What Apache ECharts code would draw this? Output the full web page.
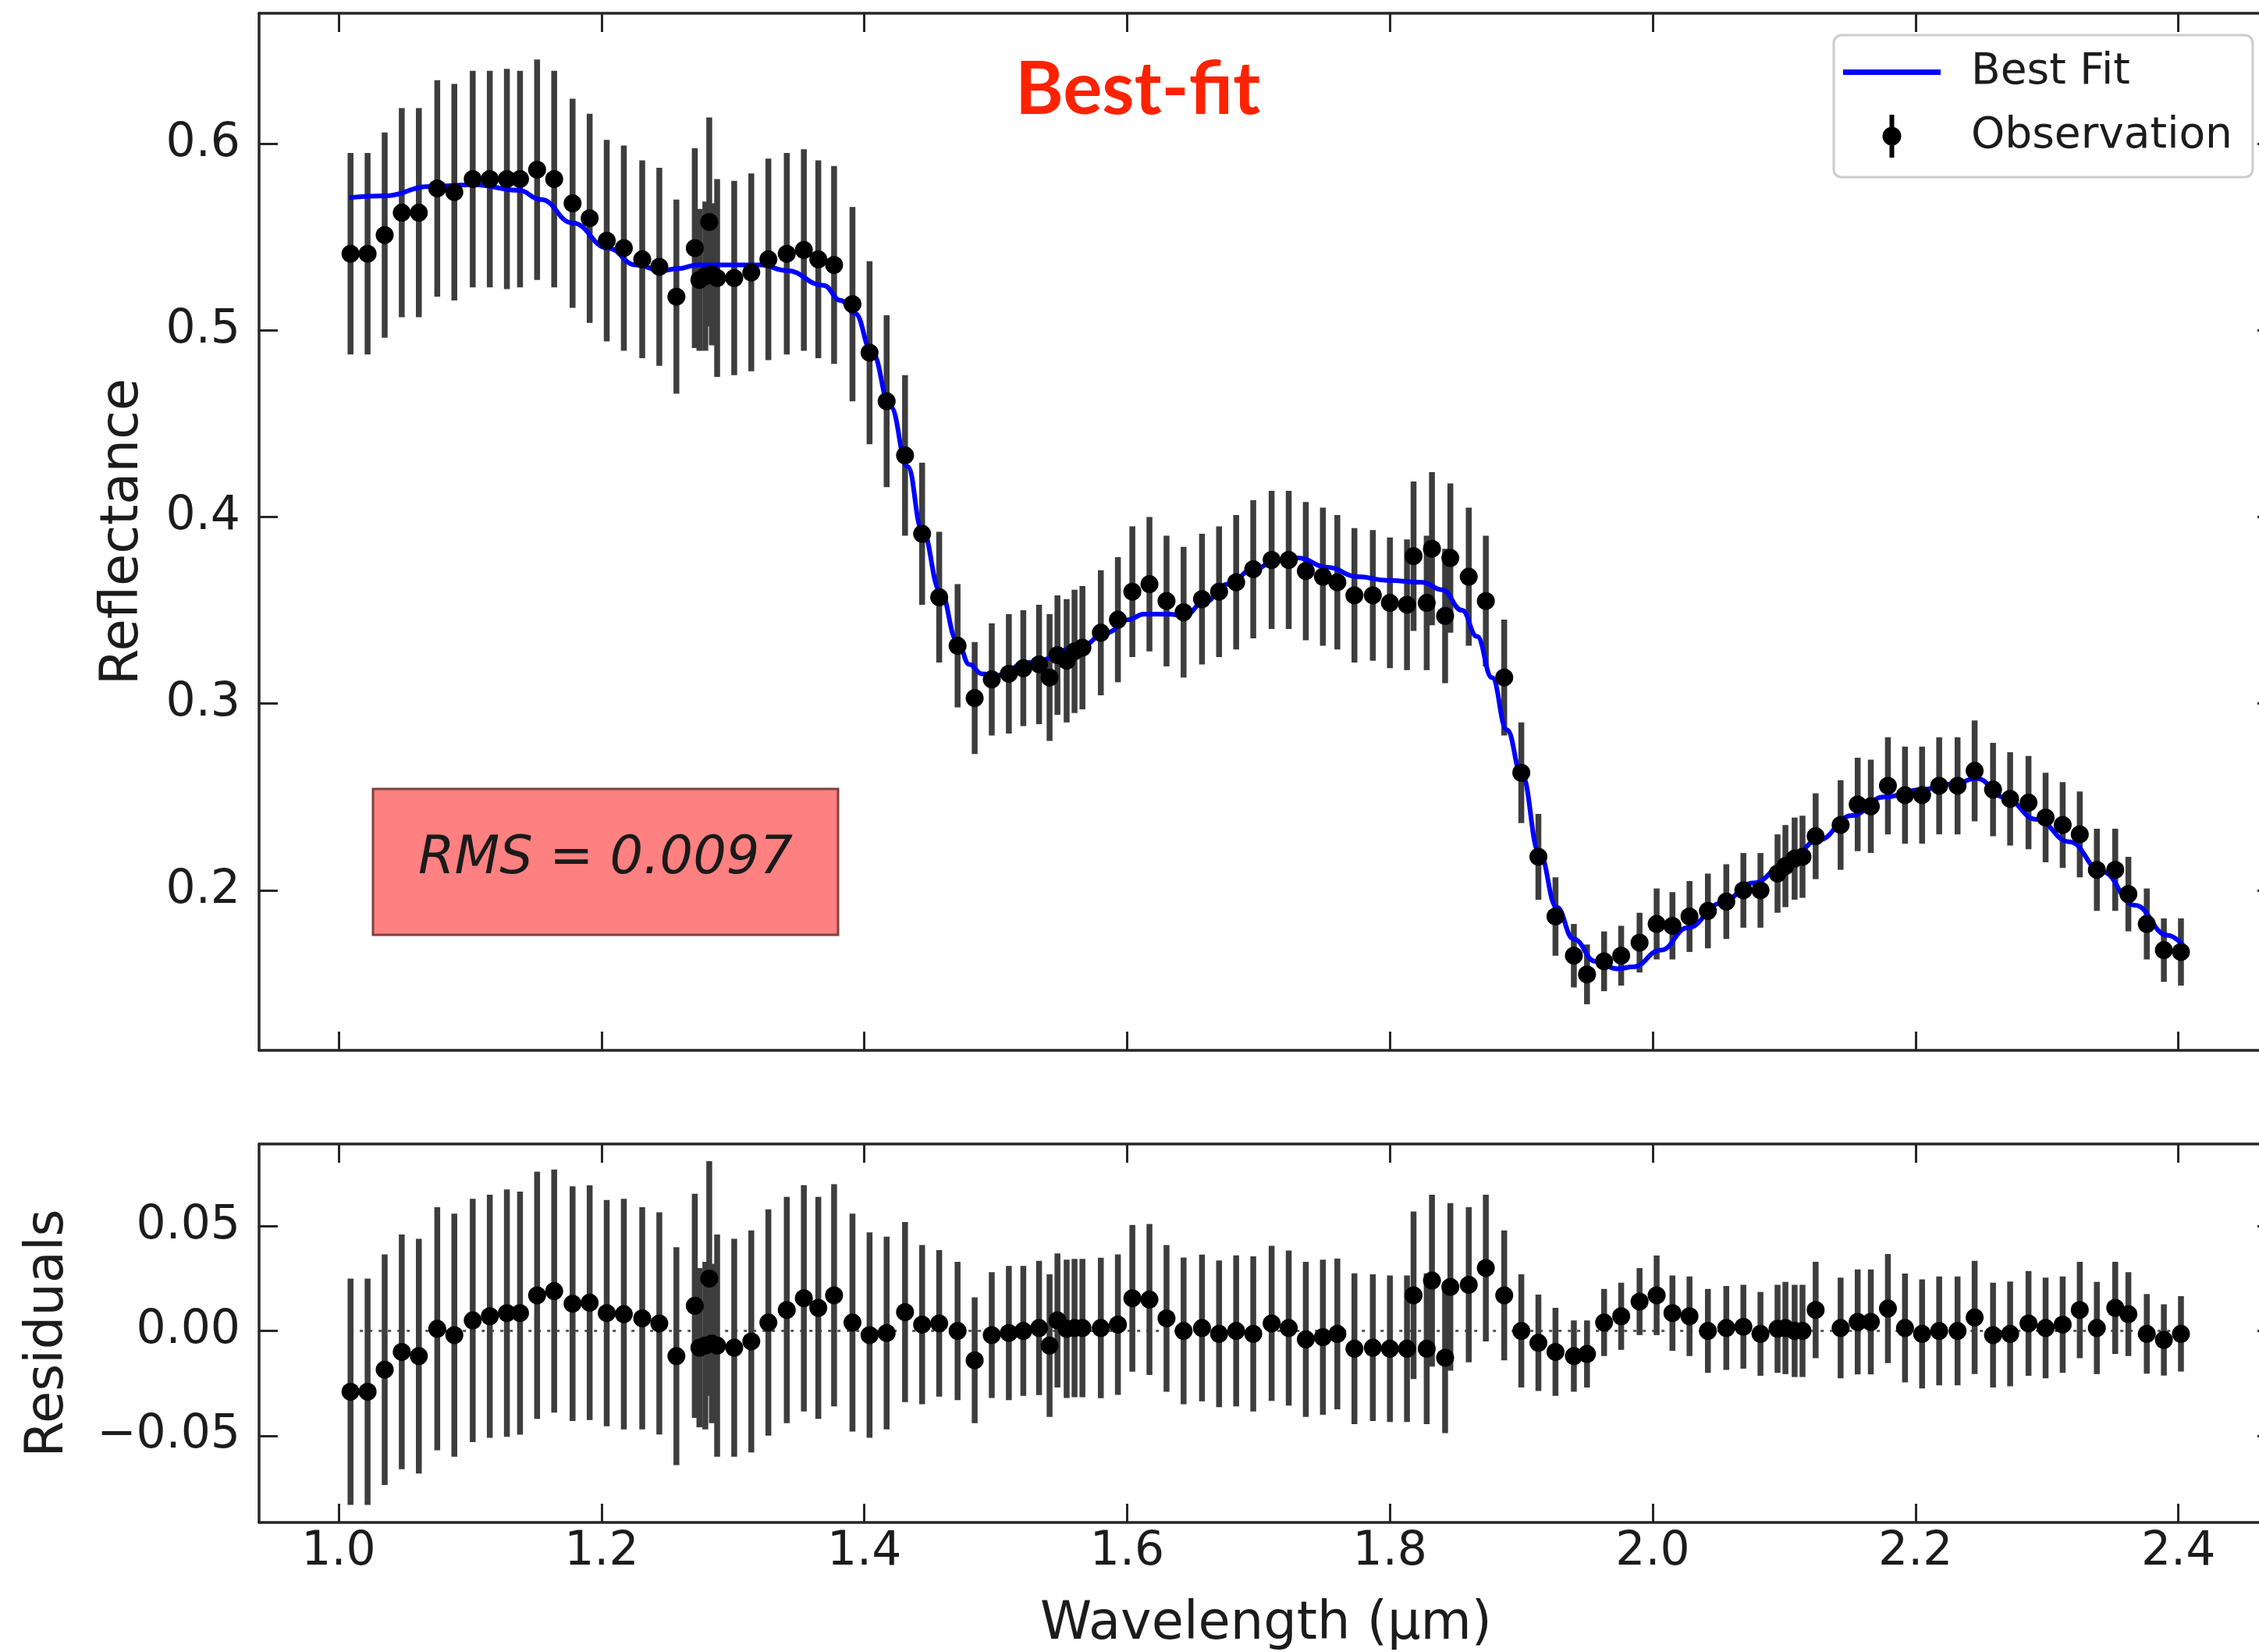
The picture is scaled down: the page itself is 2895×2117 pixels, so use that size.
<!DOCTYPE html>
<html>
<head>
<meta charset="utf-8">
<title>Best-fit spectrum</title>
<script src="https://cdn.jsdelivr.net/npm/echarts@6/dist/echarts.min.js"></script>
<style>
  html, body { margin: 0; padding: 0; background: #ffffff; overflow: hidden; }
  #chart { width: 2895px; height: 2117px; }
</style>
</head>
<body>
<div id="chart"></div>
<script>
// Observed spectrum (µm, reflectance, 1-sigma error) and residuals (obs - model)
const wavelength = [
  1.009, 1.022, 1.035, 1.048, 1.061, 1.075, 1.088, 1.102, 1.115, 1.128,
  1.138, 1.151, 1.164, 1.178, 1.191, 1.204, 1.217, 1.231, 1.244, 1.257,
  1.271, 1.2745, 1.279, 1.282, 1.284, 1.288, 1.301, 1.314, 1.327, 1.341,
  1.354, 1.365, 1.377, 1.391, 1.404, 1.417, 1.431, 1.444, 1.457, 1.471,
  1.484, 1.497, 1.510, 1.521, 1.533, 1.541, 1.547, 1.554, 1.560, 1.566,
  1.580, 1.593, 1.604, 1.617, 1.630, 1.643, 1.657, 1.670, 1.683, 1.696,
  1.710, 1.723, 1.736, 1.749, 1.760, 1.773, 1.787, 1.800, 1.813, 1.818,
  1.828, 1.832, 1.842, 1.846, 1.860, 1.873, 1.887, 1.900, 1.913, 1.926,
  1.940, 1.950, 1.963, 1.976, 1.990, 2.003, 2.015, 2.028, 2.042, 2.056,
  2.069, 2.082, 2.095, 2.101, 2.108, 2.114, 2.124, 2.143, 2.156, 2.166,
  2.179, 2.192, 2.205, 2.218, 2.232, 2.245, 2.259, 2.272, 2.286, 2.299,
  2.312, 2.325, 2.338, 2.352, 2.362, 2.376, 2.389, 2.402
];

const reflectance = [
  0.541, 0.541, 0.551, 0.563, 0.563, 0.576, 0.574, 0.581, 0.581, 0.581,
  0.581, 0.586, 0.581, 0.568, 0.560, 0.548, 0.544, 0.538, 0.534, 0.518,
  0.544, 0.527, 0.529, 0.558, 0.530, 0.528, 0.528, 0.531, 0.538, 0.541,
  0.543, 0.538, 0.535, 0.514, 0.488, 0.462, 0.433, 0.391, 0.357, 0.331,
  0.303, 0.313, 0.316, 0.319, 0.321, 0.314, 0.326, 0.323, 0.328, 0.330,
  0.338, 0.345, 0.360, 0.364, 0.355, 0.349, 0.356, 0.360, 0.365, 0.372,
  0.377, 0.377, 0.371, 0.368, 0.365, 0.358, 0.358, 0.354, 0.353, 0.379,
  0.354, 0.383, 0.347, 0.378, 0.368, 0.355, 0.314, 0.263, 0.218, 0.186,
  0.165, 0.155, 0.162, 0.165, 0.172, 0.182, 0.181, 0.186, 0.189, 0.194,
  0.200, 0.200, 0.209, 0.213, 0.217, 0.218, 0.229, 0.235, 0.246, 0.245,
  0.256, 0.251, 0.251, 0.256, 0.256, 0.264, 0.254, 0.249, 0.247, 0.239,
  0.235, 0.230, 0.211, 0.211, 0.198, 0.182, 0.168, 0.167
];

const reflectanceErr = [
  0.054, 0.054, 0.055, 0.056, 0.056, 0.058, 0.058, 0.058, 0.058, 0.059,
  0.058, 0.059, 0.058, 0.056, 0.056, 0.054, 0.055, 0.053, 0.053, 0.052,
  0.0535, 0.038, 0.040, 0.056, 0.038, 0.053, 0.052, 0.053, 0.054, 0.054,
  0.054, 0.053, 0.053, 0.052, 0.049, 0.046, 0.043, 0.038, 0.035, 0.033,
  0.030, 0.030, 0.032, 0.031, 0.032, 0.034, 0.032, 0.033, 0.033, 0.033,
  0.0335, 0.0335, 0.035, 0.036, 0.035, 0.035, 0.035, 0.035, 0.036, 0.037,
  0.037, 0.037, 0.037, 0.037, 0.036, 0.036, 0.035, 0.035, 0.035, 0.040,
  0.036, 0.041, 0.036, 0.040, 0.037, 0.035, 0.031, 0.027, 0.023, 0.021,
  0.017, 0.016, 0.016, 0.016, 0.016, 0.019, 0.018, 0.019, 0.020, 0.020,
  0.020, 0.020, 0.021, 0.022, 0.022, 0.022, 0.023, 0.024, 0.025, 0.025,
  0.026, 0.026, 0.026, 0.026, 0.026, 0.027, 0.025, 0.025, 0.025, 0.024,
  0.023, 0.023, 0.022, 0.022, 0.020, 0.019, 0.017, 0.018
];

const residual = [
  -0.029, -0.029, -0.0185, -0.010, -0.012, 0.001, -0.002, 0.005, 0.007, 0.0085,
  0.0085, 0.017, 0.019, 0.013, 0.0135, 0.0085, 0.008, 0.006, 0.0036, -0.012,
  0.012, -0.008, -0.007, 0.025, -0.006, -0.007, -0.008, -0.005, 0.004, 0.010,
  0.0156, 0.011, 0.017, 0.004, -0.002, -0.001, 0.009, 0.003, 0.0036, 0.000,
  -0.014, -0.002, -0.001, 0.000, 0.0014, -0.007, 0.005, 0.001, 0.0014, 0.0014,
  0.0014, 0.003, 0.0156, 0.015, 0.006, 0.000, 0.0014, -0.0014, 0.000, -0.0014,
  0.0036, 0.0014, -0.004, -0.003, -0.0014, -0.0085, -0.008, -0.0085, -0.0085, 0.017,
  -0.0085, 0.024, -0.0128, 0.021, 0.022, 0.030, 0.017, 0.000, -0.0057, -0.010,
  -0.012, -0.011, 0.004, 0.007, 0.014, 0.017, 0.0085, 0.007, 0.000, 0.0014,
  0.002, -0.0014, 0.001, 0.0014, 0.000, 0.000, 0.010, 0.0014, 0.0043, 0.0043,
  0.0107, 0.0014, -0.0014, 0.000, 0.000, 0.0064, -0.002, -0.0014, 0.0036, 0.0014,
  0.003, 0.010, 0.0014, 0.011, 0.008, -0.0014, -0.0043, -0.0014
];

// Best-fit model curve
const fitWavelength = [
  1.008, 1.035, 1.069, 1.103, 1.137, 1.154, 1.178, 1.205, 1.226, 1.246,
  1.258, 1.273, 1.321, 1.341, 1.369, 1.382, 1.393, 1.406, 1.420, 1.433,
  1.444, 1.458, 1.4705, 1.480, 1.4895, 1.499, 1.5255, 1.5634, 1.5843, 1.6012,
  1.6126, 1.6315, 1.6436, 1.658, 1.677, 1.696, 1.715, 1.730, 1.7527, 1.7754,
  1.798, 1.8247, 1.8398, 1.8549, 1.8663, 1.8777, 1.889, 1.9004, 1.9137, 1.9269,
  1.9397, 1.9563, 1.9729, 1.9853, 2.0061, 2.0268, 2.0517, 2.0766, 2.1014, 2.1263,
  2.1512, 2.176, 2.2051, 2.2291, 2.2466, 2.2673, 2.2922, 2.3171, 2.342, 2.3669,
  2.3918, 2.4042
];
const fitReflectance = [
  0.571, 0.572, 0.577, 0.578, 0.575, 0.570, 0.5575, 0.544, 0.535, 0.532,
  0.533, 0.535, 0.535, 0.532, 0.524, 0.516, 0.509, 0.488, 0.459, 0.427,
  0.393, 0.360, 0.334, 0.321, 0.316, 0.315, 0.322, 0.330, 0.338, 0.345,
  0.348, 0.348, 0.347, 0.354, 0.364, 0.372, 0.377, 0.378, 0.373, 0.368,
  0.366, 0.365, 0.361, 0.350, 0.336, 0.314, 0.286, 0.262, 0.220, 0.191,
  0.174, 0.162, 0.158, 0.159, 0.168, 0.180, 0.193, 0.204, 0.214, 0.227,
  0.240, 0.250, 0.254, 0.257, 0.260, 0.250, 0.238, 0.226, 0.210, 0.192,
  0.176, 0.170
];

const xTicks = [1.0, 1.2, 1.4, 1.6, 1.8, 2.0, 2.2, 2.4];
const yTicksTop = [0.2, 0.3, 0.4, 0.5, 0.6];
const yTicksRes = [-0.05, 0.0, 0.05];
const rmsValue = 0.0097;

// Axis ranges (the right frame edge lies just past the canvas)
const X_MIN = 0.9394, X_MAX = 2.4614;
const Y_TOP_MIN = 0.1143, Y_TOP_MAX = 0.6698;
const Y_RES_MIN = -0.0914, Y_RES_MAX = 0.0892;

const AXIS_COLOR = '#262626';
const TEXT_COLOR = '#1c1c1c';
const BAR_COLOR = '#3d3d3d';
const FONT = 'DejaVu Sans';

function axisLine() {
  return { show: true, onZero: false, lineStyle: { color: AXIS_COLOR, width: 3.5 } };
}
function axisTick(values) {
  return { show: true, inside: true, length: 24, customValues: values,
           lineStyle: { color: AXIS_COLOR, width: 3 } };
}
function xAxisCfg(gridIndex, position, withLabels) {
  return {
    type: 'value', gridIndex, position, min: X_MIN, max: X_MAX,
    axisLine: axisLine(), axisTick: axisTick(xTicks), splitLine: { show: false },
    axisLabel: { show: withLabels, customValues: xTicks, margin: 8,
                 formatter: v => v.toFixed(1),
                 fontFamily: FONT, fontSize: 60, color: TEXT_COLOR }
  };
}
function yAxisCfg(gridIndex, position, min, max, ticks, digits, withLabels) {
  return {
    type: 'value', gridIndex, position, min, max,
    offset: position === 'right' ? 22 : 0,
    axisLine: axisLine(), axisTick: axisTick(ticks), splitLine: { show: false },
    axisLabel: { show: withLabels, customValues: ticks, margin: 24,
                 formatter: v => (Math.abs(v) < 1e-9 ? 0 : v).toFixed(digits).replace('-', '\u2212'),
                 fontFamily: FONT, fontSize: 60, color: TEXT_COLOR }
  };
}

function errorBarRenderer(params, api) {
  const x = api.value(0);
  const p1 = api.coord([x, api.value(1)]);
  const p2 = api.coord([x, api.value(2)]);
  return {
    type: 'line',
    shape: { x1: p1[0], y1: p1[1], x2: p2[0], y2: p2[1] },
    style: { stroke: BAR_COLOR, lineWidth: 7.5 }
  };
}

const obsPoints = wavelength.map((w, i) => [w, reflectance[i]]);
const obsBars = wavelength.map((w, i) => [w, reflectance[i] - reflectanceErr[i], reflectance[i] + reflectanceErr[i]]);
const resPoints = wavelength.map((w, i) => [w, residual[i]]);
const resBars = wavelength.map((w, i) => [w, residual[i] - reflectanceErr[i], residual[i] + reflectanceErr[i]]);
const fitPoints = fitWavelength.map((w, i) => [w, fitReflectance[i]]);

// Axes: bottom/top and left/right for each of the two panels (grid 0 = spectrum, grid 1 = residuals)
const xAxisLabel = xAxisCfg(1, 'bottom', true);
Object.assign(xAxisLabel, {
  name: 'Wavelength (\u00b5m)', nameLocation: 'middle', nameGap: 98,
  nameTextStyle: { fontFamily: FONT, fontSize: 67, color: TEXT_COLOR, padding: [0, 0, 0, 18] }
});
const yTopLabel = yAxisCfg(0, 'left', Y_TOP_MIN, Y_TOP_MAX, yTicksTop, 1, true);
Object.assign(yTopLabel, {
  name: 'Reflectance', nameLocation: 'middle', nameGap: 140,
  nameTextStyle: { fontFamily: FONT, fontSize: 67, color: TEXT_COLOR }
});
const yResLabel = yAxisCfg(1, 'left', Y_RES_MIN, Y_RES_MAX, yTicksRes, 2, true);
Object.assign(yResLabel, {
  name: 'Residuals', nameLocation: 'middle', nameGap: 236,
  nameTextStyle: { fontFamily: FONT, fontSize: 67, color: TEXT_COLOR }
});

const markerStyle = { color: '#000000', opacity: 1 };

const option = {
  animation: false,
  backgroundColor: '#ffffff',
  grid: [
    { left: 332, top: 17, width: 2563, height: 1329, containLabel: false },
    { left: 332, top: 1466, width: 2563, height: 486, containLabel: false }
  ],
  xAxis: [
    xAxisCfg(0, 'bottom', false),
    xAxisCfg(0, 'top', false),
    xAxisLabel,
    xAxisCfg(1, 'top', false)
  ],
  yAxis: [
    yTopLabel,
    yAxisCfg(0, 'right', Y_TOP_MIN, Y_TOP_MAX, yTicksTop, 1, false),
    yResLabel,
    yAxisCfg(1, 'right', Y_RES_MIN, Y_RES_MAX, yTicksRes, 2, false)
  ],
  legend: {
    orient: 'vertical', left: 2350, top: 45,
    padding: [20, 26, 25, 12], itemGap: 27, itemWidth: 125, itemHeight: 55,
    backgroundColor: '#ffffff', borderColor: '#cccccc', borderWidth: 3, borderRadius: 10,
    textStyle: { fontFamily: FONT, fontSize: 55, color: TEXT_COLOR, padding: [0, 0, 0, 34] },
    data: [
      { name: 'Best Fit', icon: 'path://M0,0 L125,0 L125,7 L0,7 Z' },
      { name: 'Observation',
        icon: 'path://M10,0 L16,0 L16,55 L10,55 Z M1,27.5 A12,12 0 1 1 25,27.5 A12,12 0 1 1 1,27.5 Z' }
    ]
  },
  graphic: [
    { type: 'text', x: 1458, y: 116, z: 10,
      style: { text: 'Best-fit', fill: '#ff2200', font: 'bold 94px Lato', align: 'center', verticalAlign: 'middle' } },
    { type: 'rect', z: 10, shape: { x: 478, y: 1011, width: 596, height: 187 },
      style: { fill: '#ff8080', stroke: '#7f4040', lineWidth: 3 } },
    { type: 'text', x: 776, y: 1102, z: 11,
      style: { text: 'RMS = ' + rmsValue.toFixed(4), fill: '#1a1a1a',
               font: 'italic 67px "DejaVu Sans"', align: 'center', verticalAlign: 'middle' } }
  ],
  series: [
    { name: 'Best Fit', type: 'line', xAxisIndex: 0, yAxisIndex: 0, z: 3,
      data: fitPoints, showSymbol: false, smooth: 0.45, smoothMonotone: 'x',
      lineStyle: { color: '#0000ff', width: 6 }, itemStyle: { color: '#0000ff' } },
    { name: 'obs-err', type: 'custom', xAxisIndex: 0, yAxisIndex: 0, z: 2,
      data: obsBars, renderItem: errorBarRenderer, encode: { x: 0, y: [1, 2] }, silent: true },
    { name: 'Observation', type: 'scatter', xAxisIndex: 0, yAxisIndex: 0, z: 4,
      data: obsPoints, symbol: 'circle', symbolSize: 23, itemStyle: markerStyle },
    { name: 'zero', type: 'line', xAxisIndex: 2, yAxisIndex: 2, z: 1, silent: true,
      data: [[wavelength[0], 0], [wavelength[wavelength.length - 1], 0]], showSymbol: false,
      lineStyle: { color: '#5a5a5a', width: 3, type: [4, 8] } },
    { name: 'res-err', type: 'custom', xAxisIndex: 2, yAxisIndex: 2, z: 2,
      data: resBars, renderItem: errorBarRenderer, encode: { x: 0, y: [1, 2] }, silent: true },
    { name: 'Observation', type: 'scatter', xAxisIndex: 2, yAxisIndex: 2, z: 4,
      data: resPoints, symbol: 'circle', symbolSize: 23, itemStyle: markerStyle }
  ]
};

const chart = echarts.init(document.getElementById('chart'), null, { renderer: 'canvas' });
chart.setOption(option);
</script>
</body>
</html>
